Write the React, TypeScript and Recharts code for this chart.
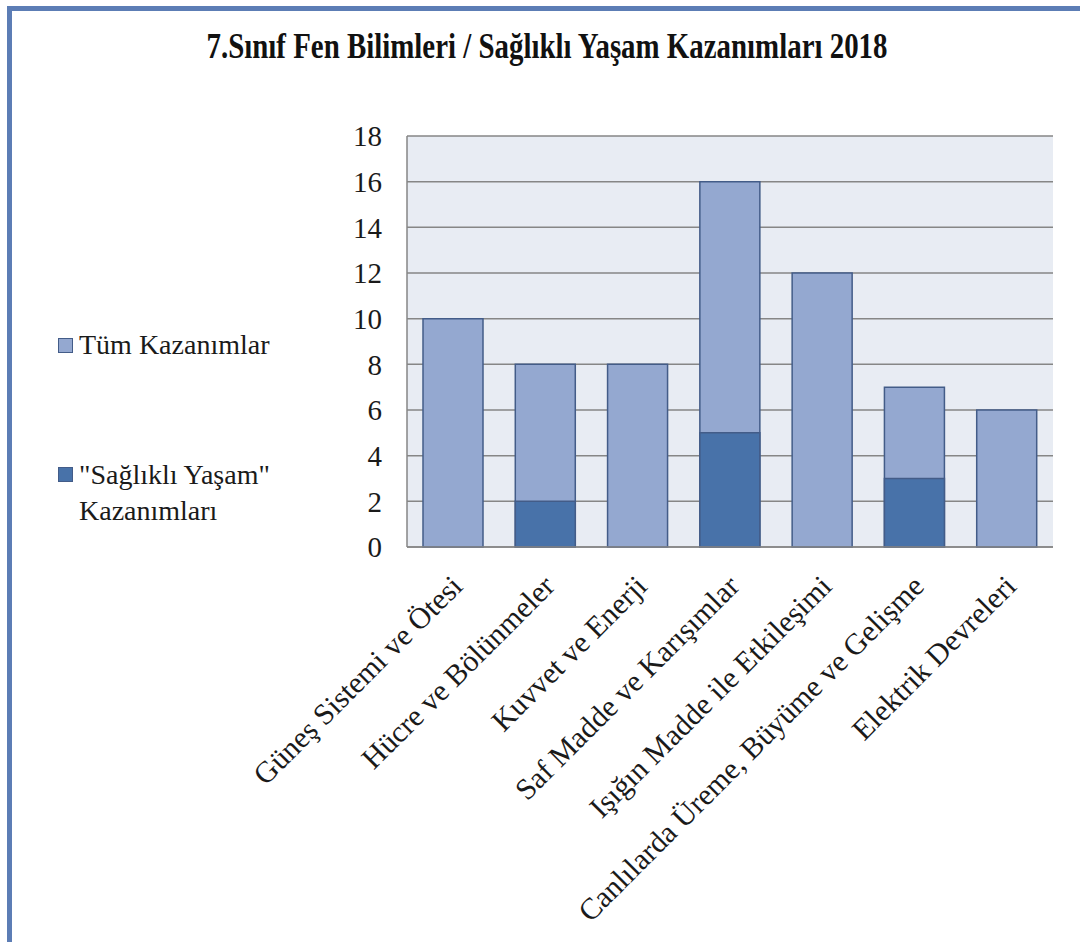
import { Bar, BarChart, CartesianGrid, Legend, XAxis, YAxis } from 'recharts';

const units = [
  'Güneş Sistemi ve Ötesi',
  'Hücre ve Bölünmeler',
  'Kuvvet ve Enerji',
  'Saf Madde ve Karışımlar',
  'Işığın Madde ile Etkileşimi',
  'Canlılarda Üreme, Büyüme ve Gelişme',
  'Elektrik Devreleri',
];
const allOutcomes = [10, 8, 8, 16, 12, 7, 6];
const healthyOutcomes = [0, 2, 0, 5, 0, 3, 0];
const yTicks = [0, 2, 4, 6, 8, 10, 12, 14, 16, 18];

const data = units.map((name, i) => ({ name, all: allOutcomes[i], healthy: healthyOutcomes[i] }));

const SERIF = "'Liberation Serif', 'Times New Roman', serif";
const LIGHT = '#94a8d0';
const DARK = '#4872a9';
const EDGE = '#435c88';

const AngledTick = ({ x, y, payload }: any) => (
  <g transform={`translate(${x + 11},${y + 41})`}>
    <text textAnchor="end" transform="rotate(-45)" fontSize={30} fontFamily={SERIF} fill="#1a1a1a">
      {payload.value}
    </text>
  </g>
);

const SideLegend = () => (
  <div style={{ position: 'relative', width: 260, height: 220, fontFamily: SERIF, fontSize: 28, color: '#1a1a1a' }}>
    <div style={{ position: 'absolute', left: 0, top: 10, width: 13, height: 13, background: LIGHT, border: `1px solid ${EDGE}` }} />
    <div style={{ position: 'absolute', left: 21, top: 0, lineHeight: '33px', whiteSpace: 'nowrap', fontFamily: SERIF }}>
      Tüm Kazanımlar
    </div>
    <div style={{ position: 'absolute', left: 0, top: 139, width: 13, height: 13, background: DARK, border: `1px solid ${EDGE}` }} />
    <div style={{ position: 'absolute', left: 21, top: 129, lineHeight: '36px', whiteSpace: 'nowrap', fontFamily: SERIF }}>
      "Sağlıklı Yaşam"
      <br />
      Kazanımları
    </div>
  </div>
);

export default function App() {
  return (
    <div style={{ position: 'absolute', left: 0, top: 0, width: 1080, height: 942, background: '#fff', overflow: 'hidden' }}>
      <div
        style={{
          position: 'absolute',
          left: 7,
          top: 6,
          width: 1100,
          height: 1000,
          borderLeft: '5px solid #5c7db5',
          borderTop: '5px solid #5c7db5',
        }}
      />
      <svg width={1080} height={100} style={{ position: 'absolute', left: 0, top: 0 }}>
        <text
          x={547}
          y={58}
          textAnchor="middle"
          fontFamily={SERIF}
          fontWeight="bold"
          fontSize={35}
          textLength={681}
          lengthAdjust="spacingAndGlyphs"
          fill="#111"
        >
          7.Sınıf Fen Bilimleri / Sağlıklı Yaşam Kazanımları 2018
        </text>
      </svg>
      <div style={{ position: 'absolute', left: 0, top: 0 }}>
        <BarChart
          width={1080}
          height={942}
          data={data}
          margin={{ top: 136, right: 27, left: 300, bottom: 0 }}
          barGap={-60}
        >
          <CartesianGrid vertical={false} stroke="#868686" strokeWidth={1.5} fill="#e8ecf3" />
          <XAxis
            dataKey="name"
            interval={0}
            height={395}
            tickLine={false}
            tickSize={0}
            tickMargin={0}
            axisLine={{ stroke: '#868686', strokeWidth: 1.5 }}
            tick={<AngledTick />}
          />
          <YAxis
            width={107}
            domain={[0, 18]}
            ticks={yTicks}
            tickLine={false}
            tickSize={0}
            tickMargin={25}
            axisLine={{ stroke: '#868686', strokeWidth: 1.5 }}
            tick={{ fontSize: 29, fontFamily: SERIF, fill: '#1a1a1a' }}
          />
          <Legend
            layout="vertical"
            align="center"
            verticalAlign="middle"
            wrapperStyle={{ position: 'absolute', left: 58, top: 328, width: 260 }}
            content={() => <SideLegend />}
          />
          <Bar dataKey="all" name="Tüm Kazanımlar" fill={LIGHT} stroke={EDGE} strokeWidth={1.5} barSize={60} isAnimationActive={false} />
          <Bar dataKey="healthy" name={'"Sağlıklı Yaşam" Kazanımları'} fill={DARK} stroke={EDGE} strokeWidth={1.5} barSize={60} isAnimationActive={false} />
        </BarChart>
      </div>
    </div>
  );
}
